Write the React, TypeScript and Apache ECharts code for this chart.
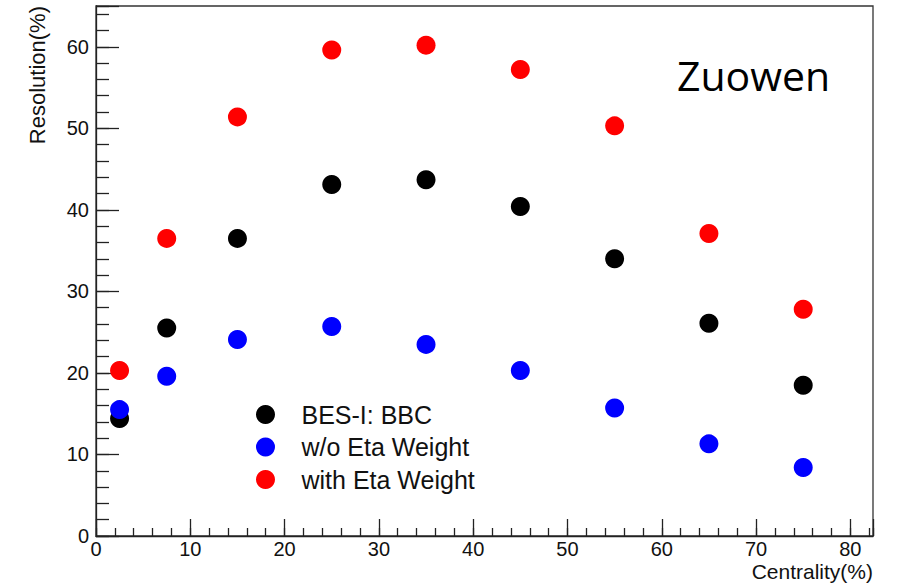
import React, { useEffect, useRef } from "react";
import * as echarts from "echarts";

const centrality = [2.5, 7.5, 15, 25, 35, 45, 55, 65, 75];
const besBBC = [14.4, 25.5, 36.5, 43.1, 43.7, 40.4, 34.0, 26.1, 18.5];
const withoutEta = [15.5, 19.6, 24.1, 25.7, 23.5, 20.3, 15.7, 11.3, 8.4];
const withEta = [20.3, 36.5, 51.4, 59.6, 60.2, 57.2, 50.3, 37.1, 27.8];
const seriesNames = ["BES-I: BBC", "w/o Eta Weight", "with Eta Weight"];
const seriesColors = ["#000000", "#0000ff", "#ff0000"];

const FONT = "'Liberation Sans', Arial, sans-serif";

export default function App() {
  const ref = useRef<HTMLDivElement>(null);
  useEffect(() => {
    if (!ref.current) return;
    const chart = echarts.init(ref.current, undefined, { renderer: "svg" });
    const pair = (ys: number[]) => centrality.map((x, i) => [x, ys[i]]);
    const axisLine = { show: true, lineStyle: { color: "#222", width: 1.3 } };
    chart.setOption({
      animation: false,
      backgroundColor: "#fff",
      grid: {
        left: 96,
        top: 6,
        right: 24,
        bottom: 51,
        show: true,
        borderColor: "#333",
        borderWidth: 1.3,
        backgroundColor: "transparent",
        outerBoundsMode: "none",
        containLabel: false,
      },
      legend: {
        orient: "vertical",
        left: 251,
        top: 397,
        icon: "circle",
        itemWidth: 62,
        itemHeight: 19,
        itemGap: 7.5,
        data: seriesNames,
        textStyle: { fontFamily: FONT, fontSize: 25, color: "#111" },
      },
      graphic: [
        {
          type: "text",
          left: 677,
          top: 54,
          style: {
            text: "Zuowen",
            fontFamily: "'Open Sans', 'Noto Sans', sans-serif",
            fontSize: 41,
            fill: "#000",
          },
        },
        {
          type: "text",
          right: 24,
          top: 561,
          style: {
            text: "Centrality(%)",
            fontFamily: FONT,
            fontSize: 21,
            fill: "#111",
          },
        },
      ],
      xAxis: [
        {
          type: "value",
          min: 0,
          max: 82.4,
          interval: 10,
          position: "bottom",
          axisLine,
          axisTick: { show: true, inside: true, length: 17, lineStyle: { color: "#222", width: 1.3 } },
          axisLabel: {
            fontFamily: FONT,
            fontSize: 20,
            color: "#111",
            margin: 3,
            formatter: (v: number) => (v % 10 === 0 ? String(v) : ""),
          },
          splitLine: { show: false },
        },
        {
          type: "value",
          min: 0,
          max: 82.4,
          interval: 2,
          position: "bottom",
          axisLine: { show: false },
          axisTick: { show: true, inside: true, length: 8, lineStyle: { color: "#222", width: 1.3 } },
          axisLabel: { show: false },
          splitLine: { show: false },
        },
      ],
      yAxis: [
        {
          type: "value",
          min: 0,
          max: 65,
          interval: 10,
          position: "left",
          name: "Resolution(%)",
          nameLocation: "end",
          nameRotate: 90,
          nameGap: 0,
          nameTextStyle: {
            fontFamily: FONT,
            fontSize: 22,
            color: "#111",
            align: "right",
            verticalAlign: "bottom",
            padding: [0, 0, 48, 0],
          },
          axisLine,
          axisTick: { show: true, inside: true, length: 23, lineStyle: { color: "#222", width: 1.3 } },
          axisLabel: {
            fontFamily: FONT,
            fontSize: 20,
            color: "#111",
            margin: 7,
            formatter: (v: number) => (v % 10 === 0 ? String(v) : ""),
          },
          splitLine: { show: false },
        },
        {
          type: "value",
          min: 0,
          max: 65,
          interval: 2,
          position: "left",
          axisLine: { show: false },
          axisTick: { show: true, inside: true, length: 13, lineStyle: { color: "#222", width: 1.3 } },
          axisLabel: { show: false },
          splitLine: { show: false },
        },
      ],
      series: [
        { name: seriesNames[0], type: "scatter", symbolSize: 19, itemStyle: { color: seriesColors[0], opacity: 1 }, data: pair(besBBC), z: 2 },
        { name: seriesNames[1], type: "scatter", symbolSize: 19, itemStyle: { color: seriesColors[1], opacity: 1 }, data: pair(withoutEta), z: 3 },
        { name: seriesNames[2], type: "scatter", symbolSize: 19, itemStyle: { color: seriesColors[2], opacity: 1 }, data: pair(withEta), z: 3 },
      ],
    });
    return () => chart.dispose();
  }, []);
  return <div ref={ref} style={{ width: 897, height: 587, position: "absolute", left: 0, top: 0 }} />;
}
